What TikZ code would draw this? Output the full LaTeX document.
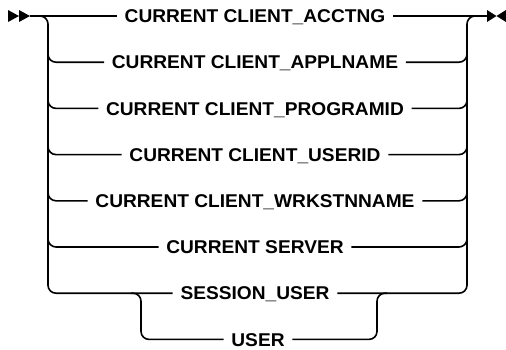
\documentclass[tikz,border=0pt]{standalone}
\usepackage{fontspec}
\setmainfont[FakeStretch=1.035]{Liberation Sans}
\usetikzlibrary{calc}
\begin{document}
\begin{tikzpicture}[x=1pt,y=-1pt,line width=1.6pt,
  kw/.style={font=\fontsize{18.5}{22}\selectfont\bfseries,inner xsep=7pt,inner ysep=2pt,
    text height=13.3pt,text depth=0pt},
  rail/.style={rounded corners=8pt}]
  \useasboundingbox (0,0) rectangle (506,349);
  \coordinate (start) at (30,16);
  \coordinate (stop) at (487,16);
  \coordinate (lbar) at (48,0);
  \coordinate (rbar) at (467,0);
  \coordinate (ubl) at (141,0);
  \coordinate (ubr) at (377,0);
  % start and end marks
  \fill (8,10) -- (19,16) -- (8,22) -- cycle;
  \fill (19,10) -- (30,16) -- (19,22) -- cycle;
  \fill (487,10) -- (496.5,16) -- (487,22) -- cycle;
  \fill (506,10) -- (496.5,16) -- (506,22) -- cycle;
  % choices
  \node[kw] (acctng) at (255,16) {CURRENT CLIENT\_ACCTNG};
  \node[kw] (applname) at (255,62.2) {CURRENT CLIENT\_APPLNAME};
  \node[kw] (programid) at (255,108.4) {CURRENT CLIENT\_PROGRAMID};
  \node[kw] (userid) at (255,154.6) {CURRENT CLIENT\_USERID};
  \node[kw] (wrkstnname) at (255,200.8) {CURRENT CLIENT\_WRKSTNNAME};
  \node[kw] (server) at (255,247) {CURRENT SERVER};
  \node[kw] (session) at (255,293.2) {SESSION\_USER};
  \node[kw] (user) at (258,339.4) {USER};
  % rails
  \draw (start) -- (acctng.west);
  \draw (acctng.east) -- (stop);
  \draw[rail] ($(acctng.west -| lbar)+(-8,0)$) -- (acctng.west -| lbar)
    -- (session.west -| lbar) -- (session.west);
  \draw[rail] (session.east) -- (session.east -| rbar)
    -- (acctng.east -| rbar) -- ++(8,0);
  \foreach \n in {applname,programid,userid,wrkstnname,server}{
    \draw[rail] ($(\n.west -| lbar)+(0,-10)$) -- (\n.west -| lbar) -- (\n.west);
    \draw[rail] (\n.east) -- (\n.east -| rbar) -- ++(0,-10);
  }
  \draw[rail] ($(session.west -| ubl)+(-10,0)$) -- (session.west -| ubl)
    -- (user.west -| ubl) -- (user.west);
  \draw[rail] (user.east) -- (user.east -| ubr)
    -- (session.east -| ubr) -- ++(10,0);
\end{tikzpicture}
\end{document}
